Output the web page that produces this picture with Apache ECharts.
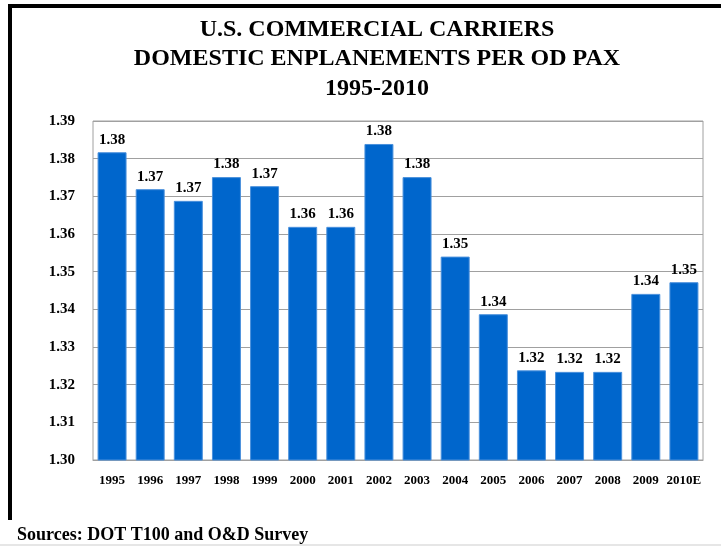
<!DOCTYPE html>
<html>
<head>
<meta charset="utf-8">
<script src="https://cdn.jsdelivr.net/npm/echarts@6/dist/echarts.min.js"></script>
<style>
html,body{margin:0;padding:0;background:#fff;}
#chart{width:721px;height:546px;}
</style>
</head>
<body>
<div id="chart"></div>
<script>
var categories = ['1995','1996','1997','1998','1999','2000','2001','2002','2003','2004','2005','2006','2007','2008','2009','2010E'];
var values = [1.3817, 1.3719, 1.3688, 1.3751, 1.3727, 1.3619, 1.3619, 1.3839, 1.3751, 1.3540, 1.3387, 1.3238, 1.3234, 1.3234, 1.3441, 1.3472];
var titleLines = ['U.S. COMMERCIAL CARRIERS', 'DOMESTIC ENPLANEMENTS PER OD PAX', '1995-2010'];
var sourceText = 'Sources: DOT T100 and O&D Survey';

var serif = '"Liberation Serif", "Times New Roman", serif';
var chart = echarts.init(document.getElementById('chart'), null, {renderer: 'canvas'});
chart.setOption({
  backgroundColor: '#ffffff',
  animation: false,
  title: [{
    text: titleLines.join('\n'),
    left: 372,
    top: 10,
    textAlign: 'center',
    textStyle: {fontFamily: serif, fontWeight: 'bold', fontSize: 24, lineHeight: 29.5, color: '#000'}
  }, {
    text: sourceText,
    left: 12,
    top: 521,
    textStyle: {fontFamily: serif, fontWeight: 'bold', fontSize: 18, color: '#000'}
  }],
  graphic: [
    {type: 'rect', shape: {x: 8, y: 4, width: 713, height: 4}, style: {fill: '#000'}},
    {type: 'rect', shape: {x: 8, y: 4, width: 4, height: 516}, style: {fill: '#000'}},
    {type: 'rect', shape: {x: 0, y: 544, width: 721, height: 2}, style: {fill: '#e6e6e6'}}
  ],
  grid: {left: 93, top: 121, right: 18, bottom: 86, show: true, borderColor: '#a0a0a0', borderWidth: 1, backgroundColor: 'transparent'},
  xAxis: {
    type: 'category',
    data: categories,
    axisLine: {show: true, lineStyle: {color: '#a0a0a0'}},
    axisTick: {show: false},
    axisLabel: {fontFamily: serif, fontWeight: 'bold', fontSize: 13, color: '#000', margin: 14, interval: 0}
  },
  yAxis: {
    type: 'value',
    min: 1.30,
    max: 1.39,
    interval: 0.01,
    axisLine: {show: false},
    axisTick: {show: false},
    splitLine: {lineStyle: {color: '#a0a0a0', width: 1}},
    axisLabel: {fontFamily: serif, fontWeight: 'bold', fontSize: 15, color: '#000', margin: 18,
      formatter: function (v) { return v.toFixed(2); }}
  },
  series: [{
    type: 'bar',
    data: values,
    barCategoryGap: '24%',
    itemStyle: {color: '#0066cc', borderColor: '#4a90dc', borderWidth: 1},
    label: {
      show: true,
      position: 'top',
      distance: 5,
      fontFamily: serif, fontWeight: 'bold', fontSize: 15, color: '#000',
      formatter: function (p) { return p.value.toFixed(2); }
    }
  }]
});
</script>
</body>
</html>
